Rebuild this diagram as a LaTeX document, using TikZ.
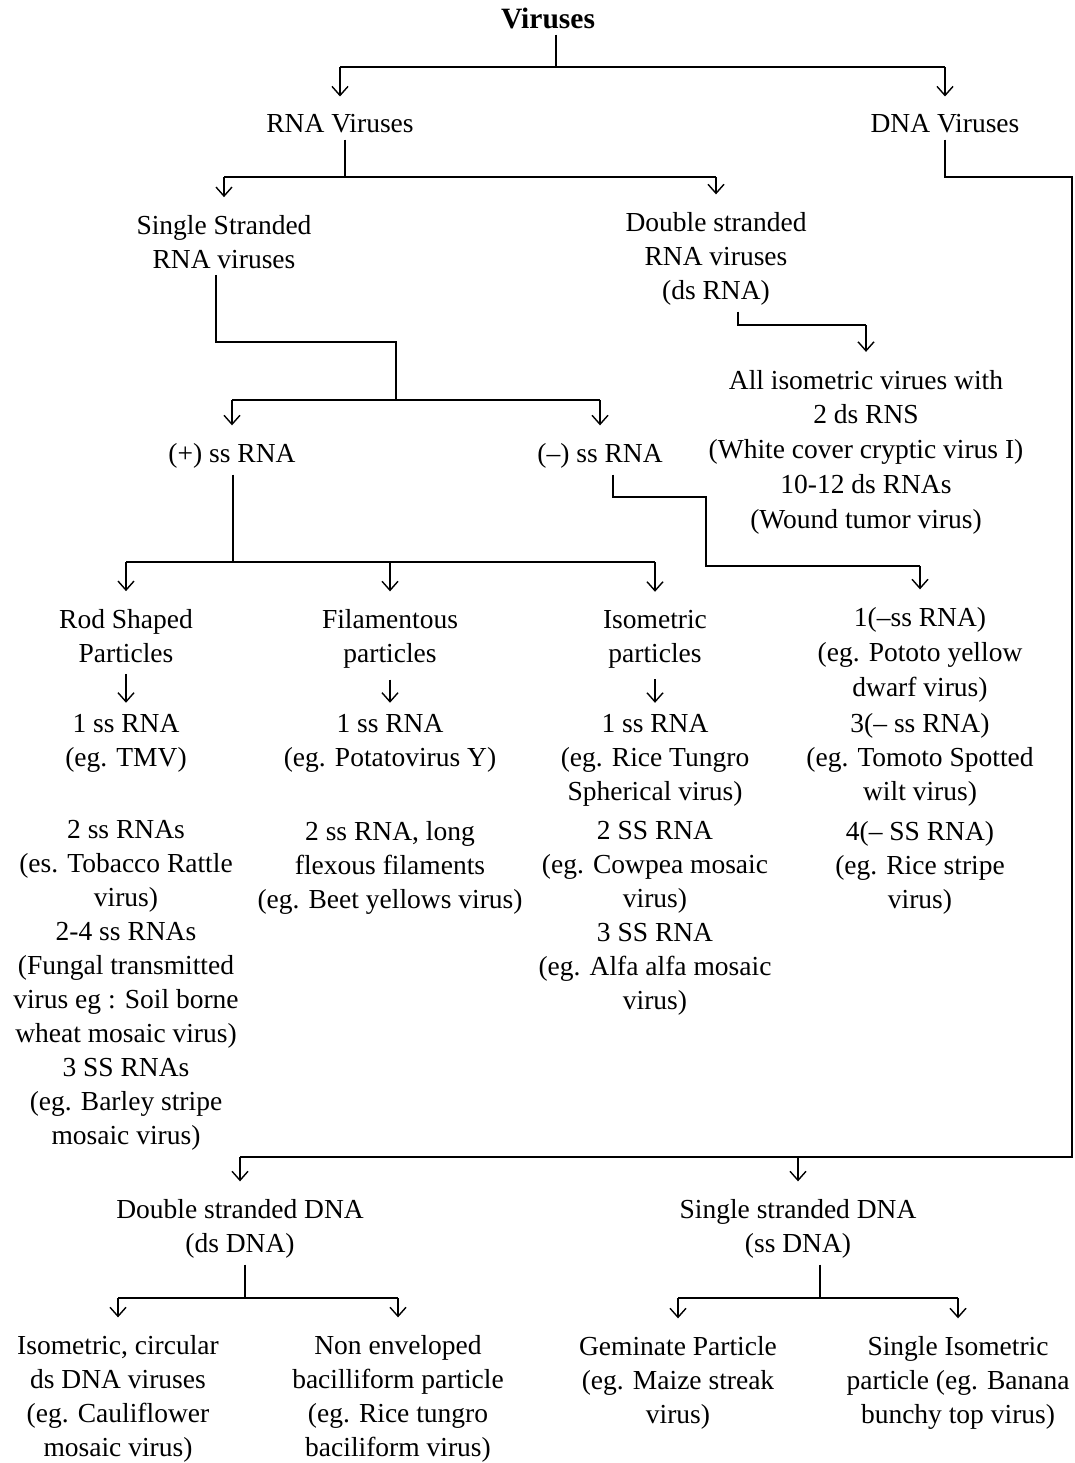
\documentclass[tikz,border=0pt]{standalone}
\usepackage{fontspec}
\setmainfont{Liberation Serif}
\usetikzlibrary{arrows.meta,positioning}

\begin{document}
\begin{tikzpicture}[
      x=1pt, y=-1pt,
      mytext/.style={
         align=center,
         inner sep=0pt,
         font=\fontsize{27.5}{34}\selectfont},
      myline/.style={line width=2.8pt},
      mystem/.style={myline, shorten <=6pt},
      myarrow/.style={
         line width=1.4pt,
         -{Straight Barb[length=9pt,width=16pt]},
         shorten >=18pt},
      myshort/.style={myarrow, shorten <=11pt, shorten >=11pt}
      ]
\useasboundingbox (0,0) rectangle (1074,1463);
\fill[white] (0,0) rectangle (1074,1463);

% top levels
\node[mytext, font=\bfseries\fontsize{29.5}{34}\selectfont] (viruses) at (548,18) {Viruses};
\node[mytext] (rnav) at (340,124) {RNA Viruses};
\node[mytext] (dnav) at (945,124) {DNA Viruses};

\node[mytext] (ssrna) at (224,242) {Single Stranded\\RNA viruses};
\node[mytext] (dsrna) at (716,259) {Double stranded\\RNA viruses\\(ds RNA)};
\node[mytext, font=\fontsize{27.5}{34.75}\selectfont] (dsiso) at (866,452)
   {All isometric virues with\\2 ds RNS\\(White cover cryptic virus I)\\10-12 ds RNAs\\(Wound tumor virus)};

\node[mytext] (pos) at (232,456) {(+) ss RNA};
\node[mytext] (neg) at (600,456) {(–) ss RNA};

% (+) ss RNA groups
\node[mytext] (rod)  at (126,636) {Rod Shaped\\Particles};
\node[mytext] (rodA) at (126,743) {1 ss RNA\\(eg. TMV)};
\node[mytext] (rodB) at (126,985)
   {2 ss RNAs\\(es. Tobacco Rattle\\virus)\\2-4 ss RNAs\\(Fungal transmitted\\virus eg : Soil borne\\wheat mosaic virus)\\3 SS RNAs\\(eg. Barley stripe\\mosaic virus)};

\node[mytext] (fil)  at (390,639) {Filamentous\\particles};
\node[mytext] (filA) at (390,743) {1 ss RNA\\(eg. Potatovirus Y)};
\node[mytext] (filB) at (390,868) {2 ss RNA, long\\flexous filaments\\(eg. Beet yellows virus)};

\node[mytext] (iso)  at (655,639) {Isometric\\particles};
\node[mytext] (isoA) at (655,760) {1 ss RNA\\(eg. Rice Tungro\\Spherical virus)};
\node[mytext] (isoB) at (655,918)
   {2 SS RNA\\(eg. Cowpea mosaic\\virus)\\3 SS RNA\\(eg. Alfa alfa mosaic\\virus)};

% (-) ss RNA groups
\node[mytext, font=\fontsize{27.5}{35}\selectfont] (negA) at (920,655) {1(–ss RNA)\\(eg. Pototo yellow\\dwarf virus)};
\node[mytext] (negB) at (920,760) {3(– ss RNA)\\(eg. Tomoto Spotted\\wilt virus)};
\node[mytext] (negC) at (920,868) {4(– SS RNA)\\(eg. Rice stripe\\virus)};

% DNA side
\node[mytext] (dsdna) at (240,1229) {Double stranded DNA\\(ds DNA)};
\node[mytext] (ssdna) at (798,1229) {Single stranded DNA\\(ss DNA)};

\node[mytext] (dsd1) at (118,1399) {Isometric, circular\\ds DNA viruses\\(eg. Cauliflower\\mosaic virus)};
\node[mytext] (dsd2) at (398,1399) {Non enveloped\\bacilliform particle\\(eg. Rice tungro\\baciliform virus)};
\node[mytext] (ssd1) at (678,1383) {Geminate Particle\\(eg. Maize streak\\virus)};
\node[mytext] (ssd2) at (958,1383) {Single Isometric\\particle (eg. Banana\\bunchy top virus)};

% bars
\coordinate (b1) at (556,67);
\coordinate (b2) at (345,177);
\coordinate (b3) at (1072,177);
\coordinate (b4) at (1072,1157);
\coordinate (b5) at (396,342);
\coordinate (b6) at (396,400);
\coordinate (b7) at (738,325);
\coordinate (b8) at (233,562);
\coordinate (b9) at (706,497);
\coordinate (b10) at (706,566);
\coordinate (b11) at (245,1298);
\coordinate (b12) at (820,1298);

\draw[mystem] (viruses.south -| b1) -- (b1);
\draw[myline] (rnav |- b1) -- (dnav |- b1);

\draw[mystem] (rnav.south -| b2) -- (b2);
\draw[myline] (ssrna |- b2) -- (dsrna |- b2);

\draw[mystem] (dnav.south) -- (dnav |- b3) -- (b3) -- (b4) -- (dsdna |- b4);

\draw[mystem] ([xshift=-8pt]ssrna.south) |- (b5) -- (b6);
\draw[myline] (pos |- b6) -- (neg |- b6);

\draw[mystem] (dsrna.south -| b7) -- (b7) -- (dsiso |- b7);

\draw[mystem] (pos.south -| b8) -- (b8);
\draw[myline] (rod |- b8) -- (iso |- b8);

\draw[mystem] ([xshift=13pt]neg.south) |- (b9) -- (b10) -- (negA |- b10);

\draw[mystem] (dsdna.south -| b11) -- (b11);
\draw[myline] (dsd1 |- b11) -- (dsd2 |- b11);

\draw[mystem] (ssdna.south -| b12) -- (b12);
\draw[myline] (ssd1 |- b12) -- (ssd2 |- b12);

\foreach \b/\n in {% bar/end node
      b1/rnav,b1/dnav,b2/ssrna,b2/dsrna,b7/dsiso,b6/pos,b6/neg,
      b8/rod,b8/fil,b8/iso,b10/negA,b4/dsdna,b4/ssdna,
      b11/dsd1,b11/dsd2,b12/ssd1,b12/ssd2}
       \draw[myarrow] (\n |- \b) -- (\n.north);

\foreach \i/\j in {rod/rodA,fil/filA,iso/isoA}
       \draw[myshort] (\i.south) -- (\j.north);

\end{tikzpicture}
\end{document}
